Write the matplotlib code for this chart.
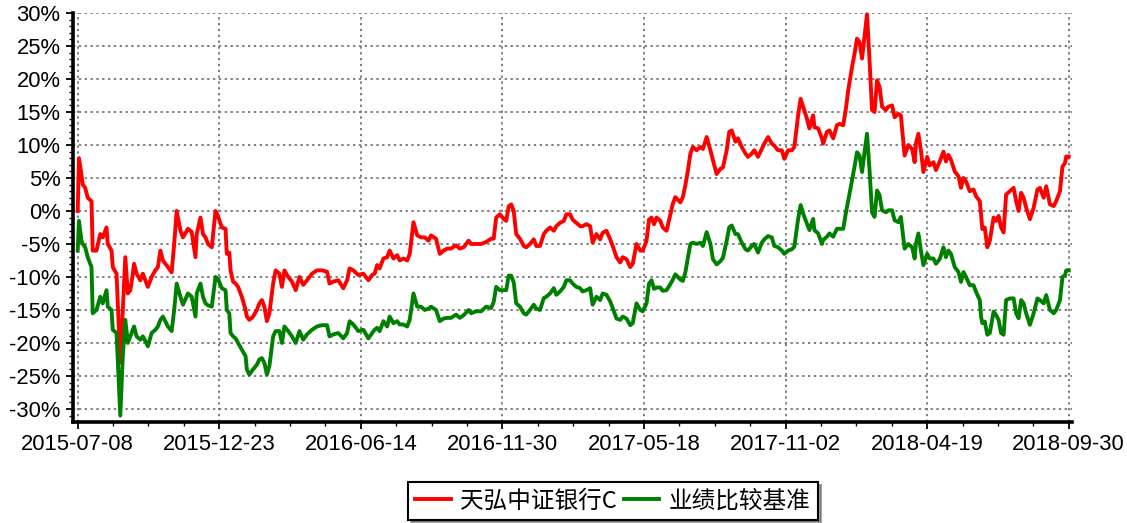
import matplotlib.pyplot as plt
import numpy as np
from matplotlib.ticker import MultipleLocator, FuncFormatter

# trading-session index (0 = 2015-07-08) and cumulative return in %
session = [
    0, 1, 3, 4, 6, 8, 11, 12, 15, 18, 20, 23, 24, 27, 28, 31, 34, 36, 38, 40,
    42, 44, 45, 47, 50, 52, 54, 56, 59, 62, 64, 66, 68, 72, 75, 77, 79, 82, 84, 88,
    91, 94, 95, 98, 100, 102, 104, 107, 110, 112, 115, 118, 119, 121, 122, 124, 126, 128, 131, 134,
    135, 137, 140, 143, 145, 147, 149, 151, 153, 156, 158, 161, 163, 165, 168, 171, 174, 177, 180, 183,
    187, 191, 195, 199, 201, 204, 208, 212, 215, 217, 220, 224, 228, 232, 235, 237, 239, 241, 244, 247,
    249, 252, 255, 257, 260, 263, 265, 268, 271, 274, 277, 280, 282, 286, 289, 292, 295, 298, 302, 305,
    308, 312, 314, 318, 322, 326, 330, 332, 334, 337, 340, 342, 344, 346, 348, 350, 353, 356, 358, 361,
    364, 366, 369, 372, 374, 377, 380, 382, 385, 388, 390, 393, 395, 398, 401, 403, 406, 409, 411, 414,
    417, 419, 422, 425, 427, 430, 433, 435, 438, 441, 443, 446, 449, 451, 454, 456, 458, 460, 462, 465,
    467, 470, 473, 475, 477, 481, 483, 485, 487, 489, 491, 494, 497, 499, 502, 505, 507, 510, 513, 515,
    518, 520, 522, 525, 527, 530, 533, 535, 538, 540, 543, 546, 548, 551, 554, 556, 559, 562, 564, 567,
    570, 572, 575, 577, 579, 582, 584, 587, 588, 591, 594, 595, 598, 600, 603, 606, 608, 611, 613, 615,
    618, 620, 622, 624, 626, 628, 630, 632, 634, 636, 638, 640, 642, 645, 647, 650, 652, 655, 657, 660,
    663, 666, 668, 669, 671, 673, 675, 678, 680, 683, 685, 688, 691, 693, 695, 697, 700, 703, 705, 707,
    709, 712, 715, 717, 720, 721, 722, 724, 726, 728, 731, 733, 735, 737, 739, 741, 744, 747, 749, 751,
    753, 755, 757, 760, 763, 766, 768, 771, 773, 776, 779, 781, 784, 786, 788, 789, 791,
]

fund = [
    0, 8, 5.5, 4, 3.5, 2, 1.5, -6, -6, -3.5, -4, -2.5, -5, -6, -8.5, -9.5, -23, -15, -7, -12.5,
    -12, -9.5, -8, -9.5, -10.5, -9.5, -10.5, -11.5, -10, -9, -8.5, -6, -7.5, -8.5, -9.3, -5, 0, -3, -4, -2.7,
    -3.2, -7, -3.5, -1, -3.5, -4, -5, -5.5, 0, -0.8, -2.5, -2.7, -6.5, -6.3, -9, -10.7, -11, -11.5, -13, -15,
    -16, -16.5, -16, -15, -14, -13.5, -14.5, -16.7, -15.5, -11, -9, -9.5, -11.5, -9, -10, -10.7, -12, -10, -11.2, -10.5,
    -9.5, -9, -9, -9.2, -11, -10.7, -10.5, -11.7, -10.5, -8.7, -9, -9.7, -9.5, -10.5, -9.7, -9.5, -8.2, -8.7, -7.2, -7,
    -6, -7.2, -6.7, -7.5, -7.2, -7.5, -6.5, -1.7, -3.7, -4, -4, -4.5, -3.7, -4.2, -6.5, -6, -5.7, -5.7, -5.2, -5.7,
    -5.5, -4.5, -5, -5, -5, -4.7, -4.2, -4.2, -1, -0.5, -1.2, -1.5, 0.7, 1, 0, -3.5, -4.2, -5.3, -5.5, -5,
    -4.3, -5.3, -5.3, -3.5, -3, -2.5, -3, -2.3, -1.8, -1.5, -0.5, -0.5, -1.3, -1.8, -2.3, -2.3, -2, -2.3, -4.8, -3.5,
    -4.3, -3.3, -3, -4.3, -5.3, -7, -7.8, -7, -7.3, -8.5, -8, -5, -6, -6, -4.5, -1.3, -1, -2, -1, -1.5,
    -2.5, -3, -0.5, 1.1, 2.1, 1.3, 2.1, 3.9, 6.1, 8.7, 9.7, 9.2, 9.7, 9.4, 11.2, 9.2, 7.7, 5.6, 6.4, 6.6,
    9.2, 12, 12.2, 10.5, 11, 9.7, 8.7, 8.2, 8.7, 9.2, 8.2, 9.4, 10.2, 11.2, 10.2, 9.9, 9.2, 9.2, 7.9, 9.2,
    9.2, 9.7, 14.5, 17, 15.8, 14, 12.5, 14.5, 12.7, 12.5, 11, 10.2, 12, 12.2, 11, 13, 13.2, 13, 15.3, 18.3,
    21.8, 23.8, 26.1, 25.6, 23.1, 26.4, 29.8, 22.8, 15.3, 15, 19.8, 18.8, 15.8, 15.3, 15.8, 16, 14.2, 14.7, 14.5, 8.4,
    10, 9.4, 7.4, 10.2, 11.7, 9.2, 5.9, 8.2, 6.9, 7.4, 6.2, 7.5, 9, 7.5, 8.5, 7.75, 6, 5.25, 3.5, 5,
    4.5, 3, 3.25, 2.25, 1.5, -0.5, -2.75, -2.5, -5.5, -4.5, -1, -1.5, -0.75, -2.5, -3.25, 2.5, 3, 3.5, 1.5, 0,
    2.75, 2, 0.5, -1.25, 0.5, 3.25, 3.5, 2, 3.75, 1, 0.75, 1.5, 3, 6.75, 7.25, 8.25, 8.25,
]

bench = [
    -6, -1.5, -4.5, -5, -5.5, -7, -8.5, -15.5, -15, -13, -14, -12, -14.5, -15, -18, -18.5, -31, -22, -16.5, -20,
    -19, -18, -17.5, -19, -19.5, -19, -19.7, -20.5, -18.5, -18, -17.5, -16.5, -16, -17.5, -18.2, -15, -11, -13, -14.2, -12.5,
    -13, -16, -12.5, -11, -13, -14, -14.3, -14.5, -10, -10.3, -11.7, -12, -15, -15.5, -18.5, -19, -19.3, -20, -21, -22,
    -24, -24.8, -24, -23.3, -22.5, -22.3, -23, -24.8, -23.5, -19, -18.2, -18.2, -20, -17.5, -18.2, -19, -20, -18.2, -19.5, -18.7,
    -18, -17.5, -17.3, -17.3, -19, -18.7, -18.5, -19.3, -18.5, -16.7, -17.2, -18.2, -18, -19.3, -18.5, -18, -17.7, -18.2, -16.7, -17.5,
    -16, -17, -16.7, -17.2, -17.2, -17.5, -16.5, -12.5, -14.5, -14.5, -15, -14.8, -14.5, -15, -16.7, -16.3, -16.2, -16.2, -15.7, -16.2,
    -15.8, -15, -15.5, -15.2, -15.2, -14.5, -14.7, -13.8, -11.5, -12, -12, -12, -9.8, -9.8, -10.8, -14, -14.5, -15.5, -15.7, -15,
    -14.2, -14.8, -15, -13.2, -13, -12.5, -11.7, -12.7, -12.2, -11.5, -10.5, -10.5, -11, -11.5, -11.7, -12.2, -12, -11.7, -14.2, -13,
    -13.5, -12.5, -12.7, -13.7, -14.7, -16.3, -16.5, -16, -16.3, -17.3, -17, -14, -15, -15.2, -14, -11, -10.5, -11.8, -11.6, -11.6,
    -12.1, -12, -11.1, -10.4, -9.6, -10.4, -10.6, -9.3, -7.1, -5, -4.8, -5, -4.8, -5.3, -3.2, -5, -7.3, -8.1, -7.6, -7.1,
    -4.5, -2.5, -2.2, -3.5, -3.5, -4.8, -5.8, -6, -5.3, -5, -6.3, -4.8, -4.3, -3.8, -4, -5.3, -5.5, -6, -6.5, -6,
    -5.8, -5.4, -1.2, 0.9, -0.4, -1.9, -2.9, -1.2, -2.9, -3.4, -5, -4.4, -3.9, -3.4, -3.9, -2.7, -2.7, -2.7, -0.4, 1.6,
    4.6, 6.7, 8.9, 8.4, 5.9, 8.9, 11.7, 6.2, -0.2, -0.9, 3.1, 2.4, 0.1, -0.2, 0.1, 0.1, -1.4, -1.7, -0.9, -5.7,
    -5, -5.5, -7.2, -5, -3.4, -6, -8.2, -6.5, -7.2, -7.2, -8, -7.3, -5.5, -7, -6, -6.5, -8.5, -9.25, -10.75, -9.25,
    -10, -11.25, -11.25, -12.25, -13.5, -16, -17, -16.75, -18.75, -18.5, -15.25, -15.75, -16.5, -18.5, -18.75, -13.5, -13.25, -13.25, -15.5, -16.25,
    -13.5, -14, -15.5, -17.25, -15.5, -13.25, -13.5, -14, -12.75, -15, -15.5, -15, -13.5, -10, -9.75, -9, -9,
]

tick_labels = ["2015-07-08", "2015-12-23", "2016-06-14", "2016-11-30",
               "2017-05-18", "2017-11-02", "2018-04-19", "2018-09-30"]

plt.rcParams["font.family"] = ["Liberation Sans", "DejaVu Sans"]

W, H = 1127, 523
fig = plt.figure(figsize=(W / 100, H / 100), dpi=100)
ax = fig.add_axes([73 / W, 1 - 421.5 / H, (1072 - 73) / W, (421.5 - 13) / H])

ax.plot(session, fund, color="#ff0000", lw=2.8, label="天弘中证银行C", clip_on=False, zorder=3)
ax.plot(session, bench, color="#008000", lw=2.8, label="业绩比较基准", clip_on=False, zorder=3)

last = session[-1]
ax.set_xlim(-3.75, last + 2.6)
ax.set_ylim(-31.9, 30)

ax.set_xticks(np.linspace(0, last, len(tick_labels)))
ax.set_xticklabels(tick_labels)
ax.xaxis.set_minor_locator(MultipleLocator(last / 28))
ax.yaxis.set_major_locator(MultipleLocator(5))
ax.yaxis.set_minor_locator(MultipleLocator(1))
ax.yaxis.set_major_formatter(FuncFormatter(lambda v, p: f"{v:.0f}%"))

ax.grid(True, which="major", color="#7f7f7f", linestyle=(0, (1.2, 1.8)), linewidth=1.4)
for side in ("top", "right"):
    ax.spines[side].set_visible(False)
for side in ("left", "bottom"):
    ax.spines[side].set_linewidth(2.6)
    ax.spines[side].set_color("black")

ax.tick_params(which="major", length=5, width=1.3, labelsize=15.8, colors="black", pad=4)
ax.tick_params(which="minor", length=3, width=1.0)

leg = fig.legend(loc="center", bbox_to_anchor=(613 / W, 1 - 501 / H), ncol=2,
                 frameon=True, fancybox=False, shadow=True, edgecolor="black",
                 handlelength=1.5, handletextpad=0.4, columnspacing=0.3,
                 borderpad=0.3, prop={"family": ["Noto Sans CJK SC", "DejaVu Sans"], "size": 17})
leg.get_frame().set_linewidth(1.5)

fig.savefig("out.png", dpi=100)
